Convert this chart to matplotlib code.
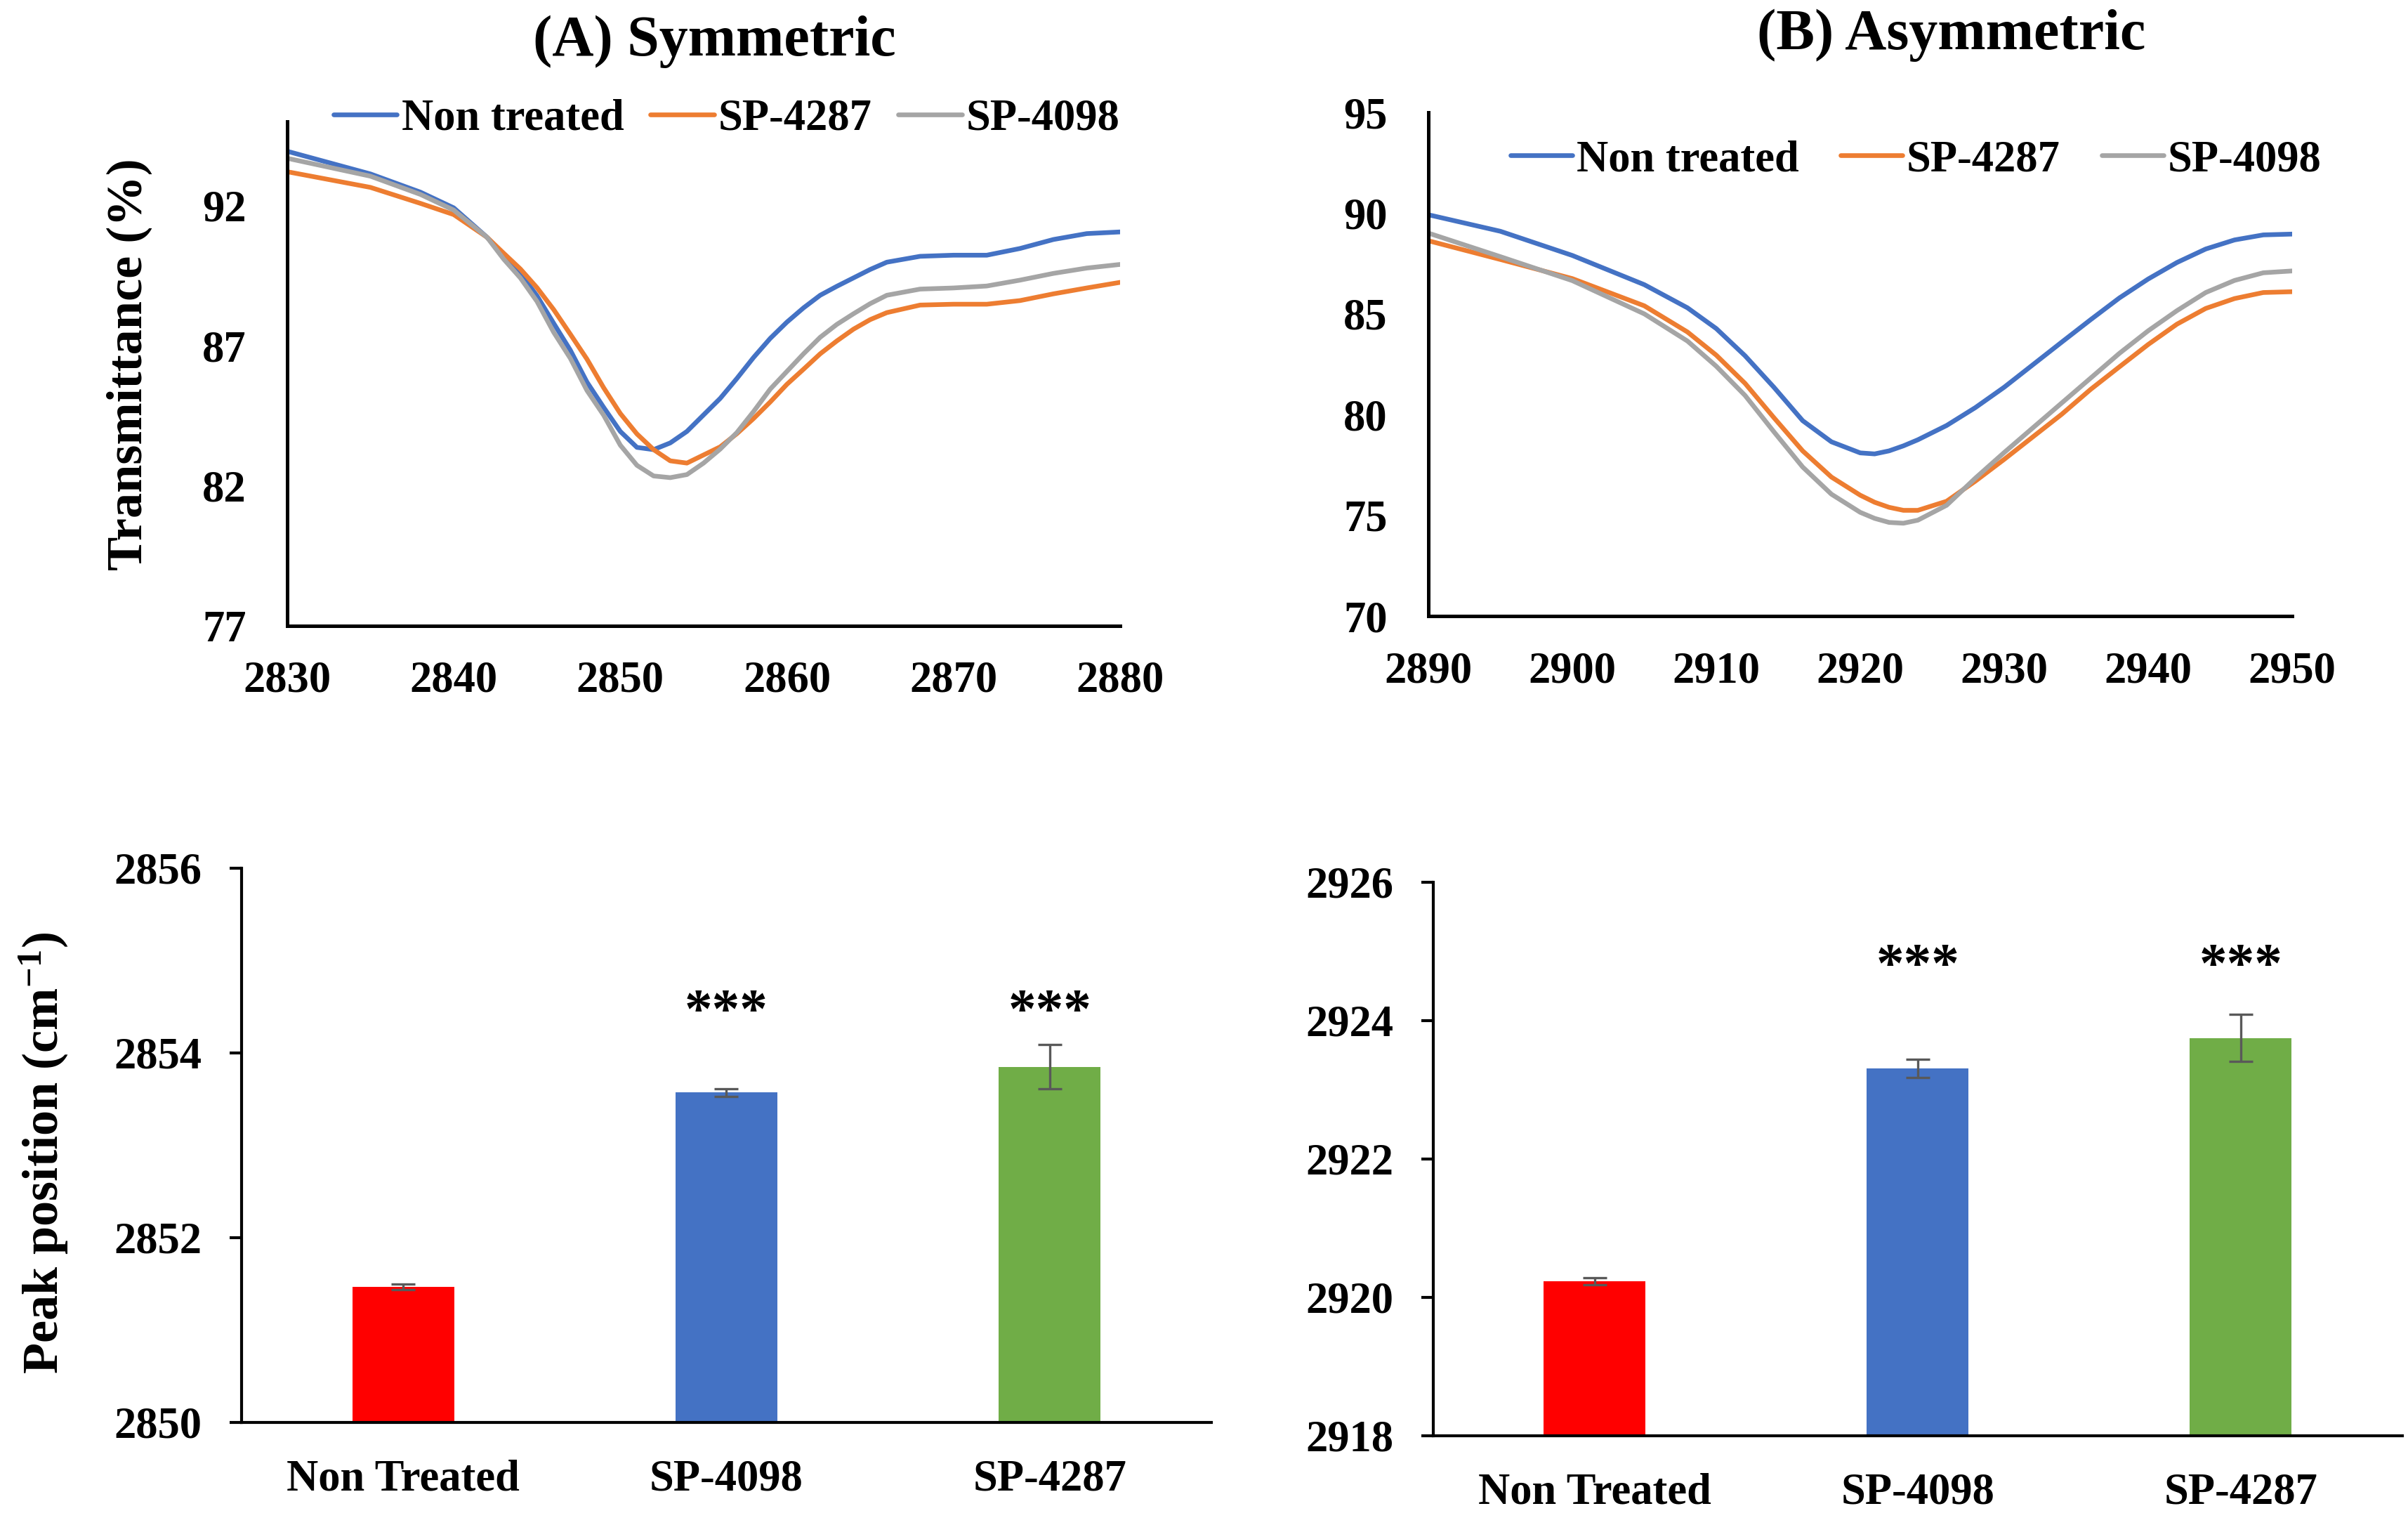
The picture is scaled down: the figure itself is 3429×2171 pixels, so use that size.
import matplotlib
matplotlib.use('Agg')
import matplotlib.pyplot as plt
import numpy as np

plt.rcParams['font.family'] = ['Liberation Serif', 'DejaVu Serif']
plt.rcParams['font.weight'] = 'bold'
plt.rcParams['mathtext.fontset'] = 'custom'
plt.rcParams['mathtext.rm'] = 'Liberation Serif:bold'
plt.rcParams['mathtext.default'] = 'rm'

TickSize = 22.5
LegendSize = 22.5
TitleSize = 29.5
LabelSize = 26

BLUE = '#4472C4'
ORANGE = '#ED7D31'
GRAY = '#A5A5A5'

# (A) symmetric stretching region
sym_x = [2830, 2835, 2838, 2840, 2842, 2843, 2844, 2845, 2846, 2847, 2848, 2849,
         2850, 2851, 2852, 2853, 2854, 2855, 2856, 2857, 2858, 2859, 2860, 2861,
         2862, 2863, 2864, 2865, 2866, 2868, 2870, 2872, 2874, 2876, 2878, 2880]
sym_non_treated = [93.94, 93.13, 92.48, 91.92, 90.87, 90.24, 89.58, 88.78, 87.80, 86.84,
                   85.70, 84.80, 83.94, 83.37, 83.29, 83.53, 83.94, 84.53, 85.12, 85.83,
                   86.58, 87.26, 87.84, 88.35, 88.80, 89.12, 89.42, 89.72, 89.98, 90.19,
                   90.23, 90.23, 90.47, 90.79, 91.00, 91.06]
sym_sp4287 = [93.21, 92.65, 92.08, 91.68, 90.87, 90.30, 89.74, 89.07, 88.29, 87.41,
              86.52, 85.50, 84.58, 83.85, 83.29, 82.89, 82.81, 83.10, 83.39, 83.86,
              84.40, 84.99, 85.62, 86.16, 86.71, 87.17, 87.59, 87.93, 88.18, 88.45,
              88.48, 88.48, 88.61, 88.85, 89.06, 89.26]
sym_sp4098 = [93.69, 93.05, 92.40, 91.84, 90.87, 90.09, 89.42, 88.58, 87.48, 86.55,
              85.40, 84.52, 83.45, 82.73, 82.35, 82.29, 82.40, 82.81, 83.31, 83.90,
              84.65, 85.45, 86.08, 86.71, 87.30, 87.76, 88.14, 88.50, 88.80, 89.02,
              89.06, 89.13, 89.34, 89.58, 89.77, 89.90]

# (B) asymmetric stretching region
asym_x = [2890, 2895, 2900, 2905, 2908, 2910, 2912, 2914, 2916, 2918, 2920, 2921,
          2922, 2923, 2924, 2926, 2928, 2930, 2932, 2934, 2936, 2938, 2940, 2942,
          2944, 2946, 2948, 2950]
asym_non_treated = [89.92, 89.10, 87.90, 86.45, 85.30, 84.27, 82.92, 81.36, 79.70, 78.65,
                    78.10, 78.05, 78.20, 78.45, 78.75, 79.46, 80.35, 81.36, 82.48, 83.60,
                    84.71, 85.79, 86.73, 87.55, 88.22, 88.67, 88.92, 88.96]
asym_sp4287 = [88.63, 87.70, 86.75, 85.40, 84.10, 82.95, 81.55, 79.85, 78.20, 76.90,
               76.00, 75.65, 75.40, 75.25, 75.25, 75.70, 76.70, 77.78, 78.90, 80.02,
               81.25, 82.37, 83.48, 84.49, 85.27, 85.76, 86.06, 86.10]
asym_sp4098 = [89.01, 87.84, 86.65, 85.00, 83.65, 82.40, 80.95, 79.15, 77.40, 76.05,
               75.15, 74.85, 74.65, 74.61, 74.76, 75.50, 76.85, 78.12, 79.35, 80.58,
               81.81, 83.04, 84.16, 85.16, 86.06, 86.66, 87.04, 87.13]

# peak positions
groups = ['Non Treated', 'SP-4098', 'SP-4287']
bar_colors = ['#FF0000', '#4472C4', '#70AD47']
sym_peak = [2851.47, 2853.57, 2853.85]
sym_peak_err = [0.03, 0.04, 0.24]
asym_peak = [2920.23, 2923.31, 2923.75]
asym_peak_err = [0.05, 0.13, 0.34]
stars = ['', '***', '***']
sym_star_y = 2854.43
asym_star_y = 2924.77


def style_axes(ax, lw):
    ax.spines['top'].set_visible(False)
    ax.spines['right'].set_visible(False)
    ax.spines['left'].set_linewidth(lw)
    ax.spines['bottom'].set_linewidth(lw)


def spectrum(ax, x, curves, xticks, yticks, ylim):
    for y, lab, c in curves:
        ax.plot(x, y, color=c, linewidth=2.4, label=lab,
                solid_capstyle='round', solid_joinstyle='round')
    ax.set_xlim(xticks[0], xticks[-1])
    ax.set_ylim(*ylim)
    ax.set_xticks(xticks)
    ax.set_yticks(yticks)
    style_axes(ax, 1.8)
    ax.tick_params(axis='y', length=0, pad=21, labelsize=TickSize)
    ax.tick_params(axis='x', length=0, pad=18, labelsize=TickSize)


def peaks(ax, vals, errs, yticks, star_y):
    x = np.arange(len(groups))
    ax.bar(x, vals, width=0.315, color=bar_colors, yerr=errs,
           error_kw=dict(ecolor='#595959', elinewidth=1.2, capsize=6, capthick=1.2))
    for xi, s in zip(x, stars):
        if s:
            ax.text(xi, star_y, s, ha='center', va='center', fontsize=28.5, fontweight='bold')
    ax.set_xlim(-0.5, len(groups) - 0.5)
    ax.set_ylim(yticks[0], yticks[-1])
    ax.set_yticks(yticks)
    ax.set_xticks(x)
    ax.set_xticklabels(groups)
    style_axes(ax, 1.5)
    ax.tick_params(axis='y', direction='out', length=6.3, width=1.5, pad=14, labelsize=TickSize)
    ax.tick_params(axis='x', length=0, pad=19, labelsize=TickSize)


fig = plt.figure(figsize=(17.15, 10.855), dpi=200)

ax1 = fig.add_axes([0.1192, 0.5896, 0.3458, 0.3307])
spectrum(ax1, sym_x, [(sym_non_treated, 'Non treated', BLUE),
                      (sym_sp4287, 'SP-4287', ORANGE),
                      (sym_sp4098, 'SP-4098', GRAY)],
         [2830, 2840, 2850, 2860, 2870, 2880], [77, 82, 87, 92], (77, 95))
ax1.legend(loc='center right', bbox_to_anchor=(1.0, 1.005), ncol=3, frameon=False,
           handlelength=1.45, handletextpad=0.1, columnspacing=0.6,
           borderaxespad=0, borderpad=0, fontsize=LegendSize)

ax2 = fig.add_axes([0.593, 0.596, 0.3586, 0.3303])
spectrum(ax2, asym_x, [(asym_non_treated, 'Non treated', BLUE),
                       (asym_sp4287, 'SP-4287', ORANGE),
                       (asym_sp4098, 'SP-4098', GRAY)],
         [2890, 2900, 2910, 2920, 2930, 2940, 2950], [70, 75, 80, 85, 90, 95], (70, 95))
ax2.legend(loc='center right', bbox_to_anchor=(1.034, 0.905), ncol=3, frameon=False,
           handlelength=1.4, handletextpad=0.1, columnspacing=0.95,
           borderaxespad=0, borderpad=0, fontsize=LegendSize)

ax3 = fig.add_axes([0.1003, 0.0673, 0.4026, 0.3634])
peaks(ax3, sym_peak, sym_peak_err, [2850, 2852, 2854, 2856], sym_star_y)

ax4 = fig.add_axes([0.595, 0.0585, 0.4023, 0.3630])
peaks(ax4, asym_peak, asym_peak_err, [2918, 2920, 2922, 2924, 2926], asym_star_y)

fig.text(0.2966, 0.9726, '(A) Symmetric', ha='center', va='center', fontsize=TitleSize)
fig.text(0.810, 0.977, '(B) Asymmetric', ha='center', va='center', fontsize=TitleSize)
fig.text(0.0536, 0.761, 'Transmittance (%)', ha='center', va='center', rotation=90,
         fontsize=LabelSize)
fig.text(0.018, 0.2437, r'Peak position (cm$^{-1}$)', ha='center', va='center', rotation=90,
         fontsize=LabelSize)

fig.savefig('out.png', dpi=200)
